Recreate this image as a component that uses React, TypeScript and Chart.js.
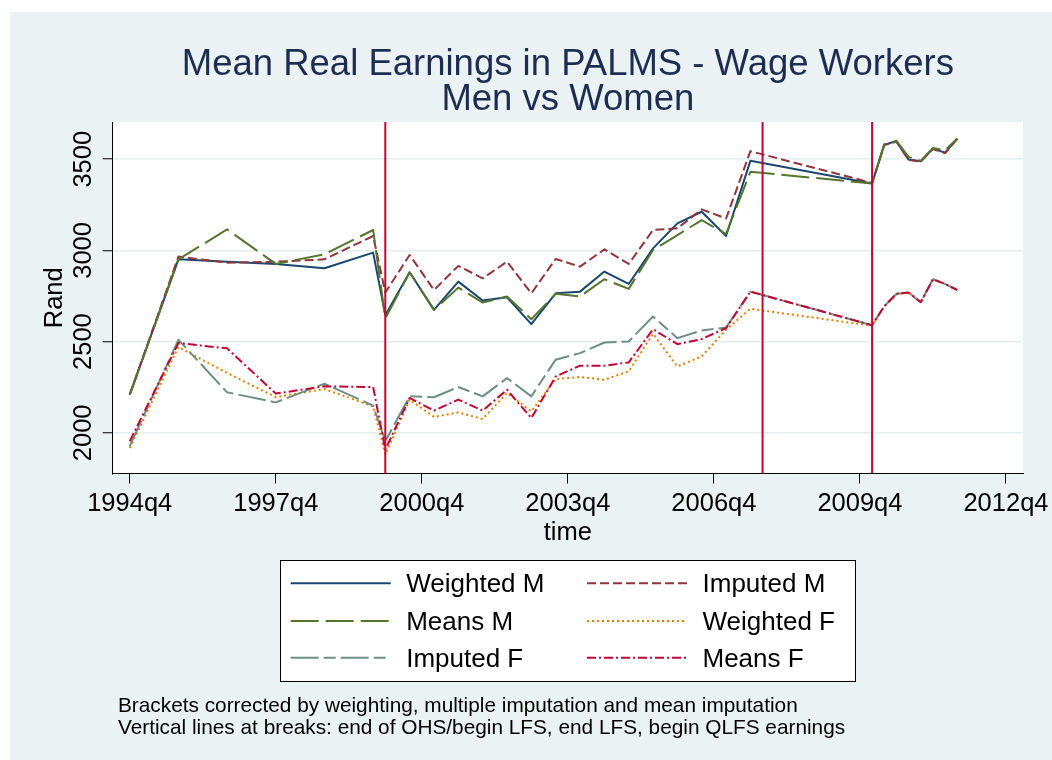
import { useEffect, useRef } from "react";
import { Chart, registerables } from "chart.js";

Chart.register(...registerables);

// ---------- data ----------
const periods = [
  "1994q4", "1995q4", "1996q4", "1997q4", "1998q4", "1999q4",
  "2000q1", "2000q3", "2001q1", "2001q3", "2002q1", "2002q3",
  "2003q1", "2003q3", "2004q1", "2004q3", "2005q1", "2005q3",
  "2006q1", "2006q3", "2007q1", "2007q3",
  "2010q1", "2010q2", "2010q3", "2010q4", "2011q1", "2011q2", "2011q3", "2011q4",
];

const weightedM = [
  2209, 2951, 2938, 2926, 2902, 2988,
  2645, 2880, 2674, 2829, 2725, 2743,
  2596, 2765, 2774, 2884, 2816, 3011,
  3148, 3212, 3079, 3491,
  3367, 3580, 3598, 3498, 3489, 3558, 3536, 3613,
];
const imputedM = [
  2209, 2966, 2933, 2938, 2951, 3079,
  2769, 2975, 2783, 2915, 2847, 2938,
  2765, 2953, 2911, 3006, 2926, 3112,
  3121, 3225, 3175, 3544,
  3370, 3578, 3596, 3496, 3487, 3556, 3533, 3612,
];
const meansM = [
  2209, 2951, 3115, 2926, 2979, 3112,
  2628, 2880, 2674, 2796, 2714, 2747,
  2623, 2762, 2747, 2842, 2789, 3002,
  3084, 3166, 3090, 3431,
  3367, 3582, 3600, 3513, 3491, 3562, 3549, 3614,
];
const weightedF = [
  1917, 2470, 2328, 2196, 2240, 2145,
  1881, 2182, 2087, 2112, 2076, 2218,
  2118, 2295, 2306, 2291, 2337, 2543,
  2364, 2419, 2565, 2680,
  2587, 2692, 2760, 2769, 2716, 2842, 2816, 2783,
];
const imputedF = [
  1927, 2510, 2222, 2167, 2269, 2149,
  1954, 2200, 2195, 2251, 2200, 2300,
  2200, 2401, 2437, 2495, 2501, 2638,
  2519, 2561, 2577, 2774,
  2590, 2694, 2762, 2769, 2716, 2842, 2816, 2783,
];
const meansF = [
  1954, 2492, 2463, 2215, 2255, 2251,
  1908, 2191, 2122, 2182, 2122, 2236,
  2081, 2309, 2368, 2368, 2386, 2568,
  2486, 2514, 2574, 2774,
  2590, 2694, 2762, 2769, 2716, 2842, 2816, 2783,
];

const xTickLabels = ["1994q4", "1997q4", "2000q4", "2003q4", "2006q4", "2009q4", "2012q4"];
const yTickValues = [2000, 2500, 3000, 3500];
const breakPeriods = ["2000q1", "2007q4", "2010q1"];

const titleLines = ["Mean Real Earnings in PALMS - Wage Workers", "Men vs Women"];
const xAxisTitle = "time";
const yAxisTitle = "Rand";
const noteLines = [
  "Brackets corrected by weighting, multiple imputation and mean imputation",
  "Vertical lines at breaks: end of OHS/begin LFS, end LFS, begin QLFS earnings",
];

// ---------- helpers ----------
const toTq = (s: string) => {
  const [y, q] = s.split("q");
  return (Number(y) - 1960) * 4 + Number(q) - 1;
};
const fromTq = (t: number) => {
  const y = 1960 + Math.floor(t / 4);
  const q = (((t % 4) + 4) % 4) + 1;
  return `${y}q${q}`;
};

const FONT = "'Liberation Sans', Arial, Helvetica, sans-serif";
const BG = "#EAF2F3";

const seriesDefs = [
  { label: "Weighted M", values: weightedM, color: "#1a476f", dash: [] as number[] },
  { label: "Imputed M", values: imputedM, color: "#90353b", dash: [9, 4] },
  { label: "Means M", values: meansM, color: "#55752f", dash: [28, 7] },
  { label: "Weighted F", values: weightedF, color: "#e37e00", dash: [2, 3] },
  { label: "Imputed F", values: imputedF, color: "#6e8e84", dash: [28, 5, 12, 5] },
  { label: "Means F", values: meansF, color: "#c10534", dash: [9, 3, 2, 3] },
];

const stataPlugin = {
  id: "stataDecor",
  beforeDraw(chart: any) {
    const { ctx, chartArea } = chart;
    ctx.save();
    ctx.fillStyle = "#ffffff";
    ctx.fillRect(0, 0, chart.width, chart.height);
    ctx.fillStyle = BG;
    ctx.fillRect(10, 12, chart.width - 10, chart.height - 12);
    ctx.fillStyle = "#ffffff";
    ctx.fillRect(chartArea.left, chartArea.top, chartArea.right - chartArea.left, chartArea.bottom - chartArea.top);
    ctx.restore();
  },
  afterDatasetsDraw(chart: any) {
    const { ctx, chartArea } = chart;
    const xs = chart.scales.x;
    ctx.save();
    ctx.strokeStyle = "#c10534";
    ctx.lineWidth = 2;
    ctx.setLineDash([]);
    breakPeriods.forEach((p) => {
      const px = xs.getPixelForValue(toTq(p));
      ctx.beginPath();
      ctx.moveTo(px, chartArea.top);
      ctx.lineTo(px, chartArea.bottom);
      ctx.stroke();
    });
    ctx.restore();
  },
  afterDraw(chart: any) {
    const { ctx, chartArea } = chart;
    const ys = chart.scales.y;
    const cx = (chartArea.left + chartArea.right) / 2;
    const cy = (chartArea.top + chartArea.bottom) / 2;
    ctx.save();

    // title
    ctx.fillStyle = "#1e2c52";
    ctx.font = `36.5px ${FONT}`;
    ctx.textAlign = "center";
    ctx.textBaseline = "alphabetic";
    ctx.fillText(titleLines[0], cx, 75);
    ctx.fillText(titleLines[1], cx, 110);

    // y tick labels (rotated)
    ctx.fillStyle = "#000";
    ctx.font = `25.5px ${FONT}`;
    ys.ticks.forEach((t: any) => {
      const py = ys.getPixelForValue(t.value);
      ctx.save();
      ctx.translate(91, py);
      ctx.rotate(-Math.PI / 2);
      ctx.textAlign = "center";
      ctx.textBaseline = "alphabetic";
      ctx.fillText(String(t.value), 0, 0);
      ctx.restore();
    });

    // y axis title
    ctx.save();
    ctx.translate(61.7, cy);
    ctx.rotate(-Math.PI / 2);
    ctx.textAlign = "center";
    ctx.textBaseline = "alphabetic";
    ctx.fillText(yAxisTitle, 0, 0);
    ctx.restore();

    // x axis title
    ctx.textAlign = "center";
    ctx.textBaseline = "alphabetic";
    ctx.fillText(xAxisTitle, cx, 540);

    // legend box
    const boxL = 280, boxR = 856, boxT = 560, boxB = 682;
    ctx.fillStyle = "#ffffff";
    ctx.fillRect(boxL, boxT, boxR - boxL, boxB - boxT);
    ctx.strokeStyle = "#000";
    ctx.lineWidth = 1;
    ctx.strokeRect(boxL + 0.5, boxT + 0.5, boxR - boxL - 1, boxB - boxT - 1);

    const colX = [290.7, 587];
    const rowY = [583.3, 621, 657.7];
    chart.data.datasets.forEach((ds: any, i: number) => {
      const col = i % 2;
      const row = Math.floor(i / 2);
      const x0 = colX[col];
      const y0 = rowY[row];
      ctx.save();
      ctx.strokeStyle = ds.borderColor;
      ctx.lineWidth = 2;
      ctx.setLineDash(ds.borderDash || []);
      ctx.beginPath();
      ctx.moveTo(x0, y0);
      ctx.lineTo(x0 + 100, y0);
      ctx.stroke();
      ctx.restore();
      ctx.fillStyle = "#000";
      ctx.font = `26px ${FONT}`;
      ctx.textAlign = "left";
      ctx.textBaseline = "middle";
      ctx.fillText(ds.label, x0 + 115.5, y0 + 2);
    });

    // notes
    ctx.fillStyle = "#000";
    ctx.font = `20.8px ${FONT}`;
    ctx.textAlign = "left";
    ctx.textBaseline = "alphabetic";
    ctx.fillText(noteLines[0], 118, 712);
    ctx.fillText(noteLines[1], 118, 734);

    ctx.restore();
  },
};

export default function App() {
  const ref = useRef<HTMLCanvasElement | null>(null);

  useEffect(() => {
    const canvas = ref.current;
    if (!canvas) return;
    const xs = periods.map(toTq);
    const datasets = seriesDefs.map((s, i) => ({
      label: s.label,
      data: s.values.map((v, k) => ({ x: xs[k], y: v })),
      borderColor: s.color,
      backgroundColor: s.color,
      borderDash: s.dash,
      borderWidth: 2,
      borderJoinStyle: "round" as const,
      pointRadius: 0,
      pointHoverRadius: 0,
      tension: 0,
      fill: false,
      order: seriesDefs.length - i,
    }));

    const chart = new Chart(canvas, {
      type: "line",
      data: { datasets },
      options: {
        responsive: false,
        animation: false,
        devicePixelRatio: 1,
        events: [],
        layout: { padding: { left: 32.7, right: 29, top: 122, bottom: 186.5 } },
        plugins: {
          legend: { display: false },
          title: { display: false },
          tooltip: { enabled: false },
        },
        scales: {
          x: {
            type: "linear",
            position: "bottom",
            min: 137.6,
            max: 212.4,
            afterBuildTicks: (scale: any) => {
              scale.ticks = xTickLabels.map((l) => ({ value: toTq(l) }));
            },
            afterFit: (scale: any) => {
              scale.height = 100;
              scale.paddingLeft = 0;
              scale.paddingRight = 0;
            },
            grid: {
              drawOnChartArea: false,
              drawTicks: true,
              tickLength: 10,
              tickColor: "#000",
              tickWidth: 1,
            },
            border: { display: true, color: "#000", width: 1 },
            ticks: {
              autoSkip: false,
              maxRotation: 0,
              minRotation: 0,
              padding: 5,
              color: "#000",
              font: { family: FONT, size: 25.5 },
              callback: (v: any) => fromTq(Number(v)),
            },
          },
          y: {
            type: "linear",
            position: "left",
            min: 1777,
            max: 3704,
            afterBuildTicks: (scale: any) => {
              scale.ticks = yTickValues.map((v) => ({ value: v }));
            },
            afterFit: (scale: any) => {
              scale.width = 80;
              scale.paddingTop = 0;
              scale.paddingBottom = 0;
            },
            grid: {
              drawOnChartArea: true,
              color: "#E4EDEF",
              lineWidth: 1.5,
              drawTicks: true,
              tickLength: 10,
              tickColor: "#000",
              tickWidth: 1,
            },
            border: { display: true, color: "#000", width: 1 },
            ticks: { display: false },
          },
        },
      },
      plugins: [stataPlugin],
    } as any);

    return () => chart.destroy();
  }, []);

  return (
    <div style={{ position: "fixed", left: 0, top: 0, width: 1052, height: 760, background: "#fff" }}>
      <canvas ref={ref} width={1052} height={760} style={{ display: "block", width: 1052, height: 760 }} />
    </div>
  );
}
